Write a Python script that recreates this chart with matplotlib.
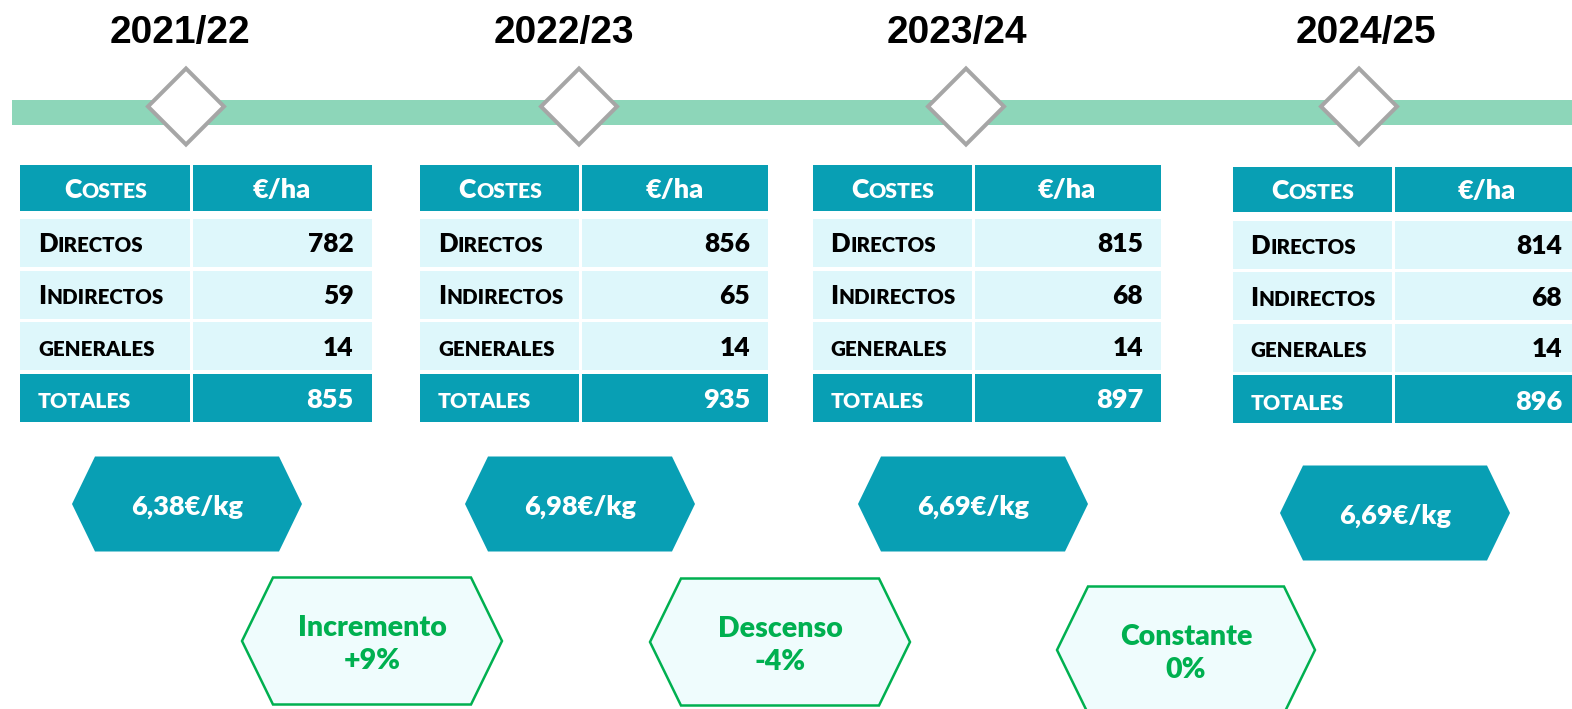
import matplotlib.pyplot as plt
from matplotlib.patches import Rectangle, Polygon

# Datos
years = ["2021/22", "2022/23", "2023/24", "2024/25"]
directos = [782, 856, 815, 814]
indirectos = [59, 65, 68, 68]
generales = [14, 14, 14, 14]
totales = [855, 935, 897, 896]
precio_kg = [6.38, 6.98, 6.69, 6.69]
tendencia = ["Incremento", "Descenso", "Constante"]
variacion = ["+9%", "-4%", "0%"]

row_names = ["Directos", "Indirectos", "generales"]

# Colores
TEAL = "#089fb4"
LIGHT = "#def7fb"
BAR = "#8dd6b9"
GREEN = "#00b050"
GFILL = "#effcfd"
GRAY = "#a6a6a6"
FONT = ["Lato", "DejaVu Sans"]
W = "heavy"

# posiciones (pixeles)
year_x = [180, 564, 957, 1366]
diam_x = [186, 579, 966, 1359]
tab_x = [(20, 191.5, 371.5), (420, 580.5, 768), (812.5, 973.5, 1161), (1232.5, 1393.5, 1580)]
tab_dy = [0, 0, 0, 1.5]
hex_x = [187, 580, 973, 1395]
hex_y = [504, 504, 504, 513]
ghex_x = [372, 780, 1186]
ghex_y = [641, 642, 650]
ghex_w = [260, 260, 258]

fig = plt.figure(figsize=(15.72, 7.09), dpi=100)
ax = fig.add_axes([0, 0, 1, 1])
ax.set_xlim(0, 1572)
ax.set_ylim(709, 0)
ax.axis("off")
renderer = fig.canvas.get_renderer()


def caps(x, y, word, size, color, ha="left"):
    # versalitas: mayusculas grandes, el resto en pequeño
    runs = []
    for ch in word:
        big = ch.isupper()
        if runs and runs[-1][1] == big:
            runs[-1][0] += ch.upper()
        else:
            runs.append([ch.upper(), big])
    pieces = []
    for txt, big in runs:
        t = ax.text(0, y, txt, fontsize=size if big else size * 0.8, color=color,
                    fontweight=W, family=FONT, va="baseline", ha="left")
        pieces.append((t, t.get_window_extent(renderer).width))
    total = sum(w for _, w in pieces)
    start = x if ha == "left" else x - total / 2
    for t, w in pieces:
        t.set_x(start)
        start += w


def hexagon(cx, cy, w, h, inset, **kw):
    pts = [(cx - w / 2, cy), (cx - w / 2 + inset, cy - h / 2), (cx + w / 2 - inset, cy - h / 2),
           (cx + w / 2, cy), (cx + w / 2 - inset, cy + h / 2), (cx - w / 2 + inset, cy + h / 2)]
    ax.add_patch(Polygon(pts, closed=True, **kw))


# linea de tiempo
ax.add_patch(Rectangle((12, 100), 1580, 24.5, facecolor=BAR, edgecolor="none"))

for i, yr in enumerate(years):
    ax.text(year_x[i], 43, yr, fontsize=28, fontweight="bold", family=["Liberation Sans", "DejaVu Sans"],
            ha="center", va="baseline", color="black")
    d = 38
    cx = diam_x[i]
    ax.add_patch(Polygon([(cx - d, 106.5), (cx, 106.5 - d), (cx + d, 106.5), (cx, 106.5 + d)],
                         closed=True, facecolor="white", edgecolor=GRAY, lw=2.9, joinstyle="miter"))

    # tabla
    x0, xs, x1 = tab_x[i]
    dy = tab_dy[i]
    rows = [(165, 210.5), (219, 267), (270.5, 318.5), (322.3, 370.3), (373.5, 421.5)]
    for r, (ya, yb) in enumerate(rows):
        fc = TEAL if r in (0, 4) else LIGHT
        ax.add_patch(Rectangle((x0, ya + dy), xs - 1.5 - x0, yb - ya, facecolor=fc, edgecolor="none"))
        ax.add_patch(Rectangle((xs + 1.5, ya + dy), x1 - xs - 1.5, yb - ya, facecolor=fc, edgecolor="none"))

    yc = (165 + 210.5) / 2 + dy
    caps((x0 + xs) / 2, yc + 10, "Costes", 19, "white", ha="center")
    ax.text((xs + x1) / 2, yc + 10, "€/ha", fontsize=19.5, fontweight=W, family=FONT,
            color="white", ha="center", va="baseline")

    vals = [directos[i], indirectos[i], generales[i]]
    for r in range(3):
        ya, yb = rows[r + 1]
        yc = (ya + yb) / 2 + dy
        caps(x0 + 18, yc + 9.5, row_names[r], 18.5, "black")
        ax.text(x1 - 18, yc + 9.5, str(vals[r]), fontsize=19, fontweight=W, family=FONT,
                color="black", ha="right", va="baseline")
    yc = (373.5 + 421.5) / 2 + dy
    caps(x0 + 18, yc + 11, "totales", 19, "white")
    ax.text(x1 - 18, yc + 11, str(totales[i]), fontsize=19.5, fontweight=W, family=FONT,
            color="white", ha="right", va="baseline")

    # precio por kg
    hexagon(hex_x[i], hex_y[i], 230, 95, 23, facecolor=TEAL, edgecolor="none")
    etiqueta = f"{precio_kg[i]:.2f}".replace(".", ",") + "€/kg"
    ax.text(hex_x[i], hex_y[i] + 11, etiqueta, fontsize=19.5, fontweight=W, family=FONT,
            color="white", ha="center", va="baseline")

# variaciones
for j in range(len(tendencia)):
    hexagon(ghex_x[j], ghex_y[j], ghex_w[j], 127, 31, facecolor=GFILL, edgecolor=GREEN, lw=1.8)
    ax.text(ghex_x[j], ghex_y[j] - 5, tendencia[j], fontsize=20.5, fontweight=W, family=FONT,
            color=GREEN, ha="center", va="baseline")
    ax.text(ghex_x[j], ghex_y[j] + 28, variacion[j], fontsize=20.5, fontweight=W, family=FONT,
            color=GREEN, ha="center", va="baseline")

plt.savefig("out.png", dpi=100)
